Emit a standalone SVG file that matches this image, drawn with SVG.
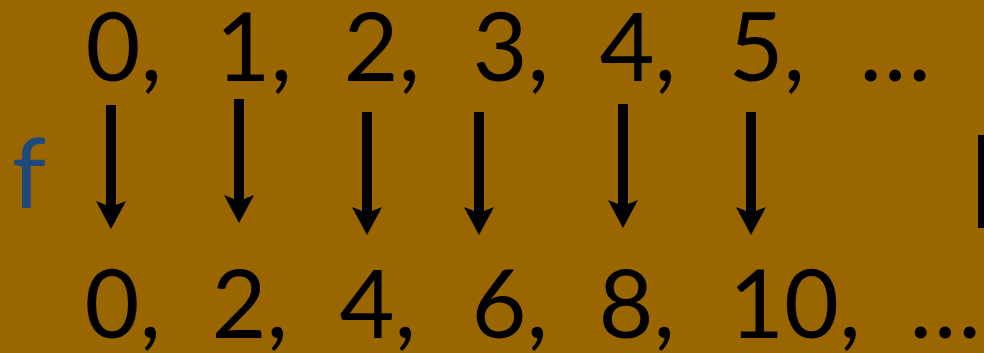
<svg xmlns="http://www.w3.org/2000/svg" width="984" height="353" viewBox="0 0 984 353">
<style>
.n{font-family:Lato,"Open Sans","Liberation Sans",sans-serif;font-size:95px;fill:#000}
.e{font-family:Lato,"Open Sans","Liberation Sans",sans-serif;font-size:95px;fill:#000;text-anchor:middle}
.f{font-family:Lato,"Open Sans","Liberation Sans",sans-serif;font-size:97px;fill:#1F497D}
.a{stroke:#000;stroke-width:10;fill:none;marker-end:url(#ah)}
</style>
<defs>
<marker id="ah" markerUnits="userSpaceOnUse" viewBox="0 -15 28 30" markerWidth="28" markerHeight="30" refX="6" refY="0" orient="auto">
<path d="M0,-15 L28,0 L0,15 L6,0 Z" fill="#000"/>
</marker>
</defs>
<rect width="984" height="353" fill="#996600"/>
<g id="top-row">
<text class="n" x="85.5" y="81">0,</text>
<text class="n" x="215.5" y="81">1,</text>
<text class="n" x="343.5" y="81">2,</text>
<text class="n" x="472.5" y="81">3,</text>
<text class="n" x="599.5" y="81">4,</text>
<text class="n" x="728.5" y="81">5,</text>
<text class="e" x="895" y="81">…</text>
</g>
<g id="f-label"><text class="f" x="12" y="208">f</text></g>
<g id="connectors">
<line class="a" x1="111" y1="105" x2="111" y2="207"/>
<line class="a" x1="239" y1="99" x2="239" y2="201"/>
<line class="a" x1="367" y1="112" x2="367" y2="213"/>
<line class="a" x1="479" y1="112" x2="479" y2="213"/>
<line class="a" x1="623" y1="104" x2="623" y2="206"/>
<line class="a" x1="751" y1="112" x2="751" y2="213"/>
</g>
<g id="bottom-row">
<text class="n" x="84.5" y="338">0,</text>
<text class="n" x="211.5" y="338">2,</text>
<text class="n" x="339.5" y="338">4,</text>
<text class="n" x="471.5" y="338">6,</text>
<text class="n" x="598.5" y="338">8,</text>
<text class="n" x="729" y="338">10,</text>
<text class="e" x="945" y="338">…</text>
</g>
<rect id="edge-bar" x="978" y="135" width="6" height="93" fill="#000"/>
</svg>
